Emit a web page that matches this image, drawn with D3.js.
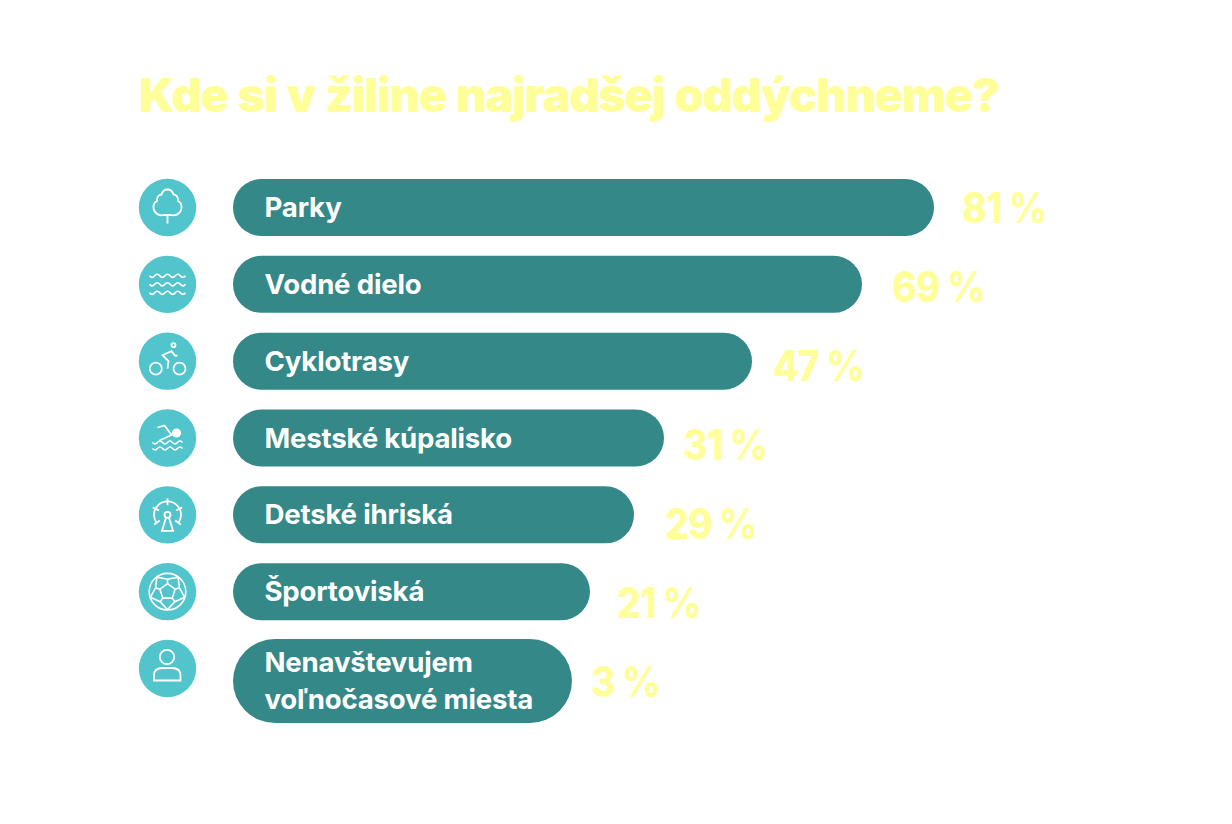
<!DOCTYPE html>
<html><head><meta charset="utf-8">
<script src="https://cdn.jsdelivr.net/npm/d3@7"></script>
<style>html,body{margin:0;padding:0;background:#fff}svg{display:block}text{font-family:Inter,sans-serif}</style>
</head><body><script>
const titleText = "Kde si v žiline najradšej oddýchneme?";
const categories = ["Parky","Vodné dielo","Cyklotrasy","Mestské kúpalisko","Detské ihriská","Športoviská","Nenavštevujem voľnočasové miesta"];
const values = [81,69,47,31,29,21,3];
const valueLabels = ["81 %","69 %","47 %","31 %","29 %","21 %","3 %"];
const labelLines = [["Parky"],["Vodné dielo"],["Cyklotrasy"],["Mestské kúpalisko"],["Detské ihriská"],["Športoviská"],["Nenavštevujem","voľnočasové miesta"]];

const W=1232,H=824, X0=233;
const svg=d3.select("body").append("svg").attr("width",W).attr("height",H);
const TEAL="#358888",CYAN="#52c4cc",YEL="#ffff99";

// The reference's bars are not proportional: a piecewise scale reproduces its lengths
const sorted=[...values].sort((a,b)=>a-b);
const xEnd=d3.scaleLinear().domain(sorted).range([572,590,634,664,752,862,934]);
const xLabel=d3.scaleLinear().domain(sorted).range([591,617,665,683,773,892,962]);
const yIcon=d3.scalePoint().domain(categories).range([207.5,668.5]);
const yLabel=d3.scalePoint().domain(categories).range([208,682]);
const barH=i=>labelLines[i].length>1?84:57;
const barCy=(c,i)=>labelLines[i].length>1?681:yIcon(c);

svg.append("text").attr("x",139).attr("y",112).attr("fill",YEL)
  .attr("font-size",47).attr("font-weight",900).attr("letter-spacing",-1.3).attr("word-spacing",2).text(titleText);

const wave=(x0,x1,y,n,a)=>{const s=(x1-x0)/n;let d=`M ${x0} ${y}`;
  for(let i=0;i<n;i++){const sgn=i%2?-1:1;d+=` Q ${x0+s*i+s/2} ${y+sgn*a*2} ${x0+s*(i+1)} ${y}`;}return d;};

const ICONS=[
 g=>{g.append("path").attr("d","M0,16V7M-3.5,7.5C-8,9-13.5,6-14,0.5C-14.3,-3-12.5,-5.5-10.5,-6.5C-11,-11-8,-13-6,-13C-5,-16.5-2.5,-18,0,-18C2.5,-18,5,-16.5,6,-13C8,-13,11,-11,10.5,-6.5C12.5,-5.5,14.3,-3,14,0.5C13.5,6,8,9,3.5,7.5Z");},
 g=>{[-8.5,0,8.5].forEach(y=>g.append("path").attr("stroke-width",1.7).attr("d",wave(-18,18,y,7,1.6)));},
 g=>{g.append("circle").attr("cx",-11.7).attr("cy",7.5).attr("r",6);
     g.append("circle").attr("cx",12).attr("cy",7.5).attr("r",6);
     g.append("circle").attr("cx",6).attr("cy",-16).attr("r",2);
     g.append("path").attr("d","M10,-5.5H7.5L4,-10L-5,-6L1,0L0,7.5");},
 g=>{g.append("circle").attr("cx",9).attr("cy",-5).attr("r",3.7).attr("fill","#fff");
     g.append("path").attr("d","M-10,-10.5L-3,-12.5L4,-3L-8,2.5");
     [4.5,10.5].forEach(y=>g.append("path").attr("stroke-width",1.5).attr("d",wave(-15,15,y,6,1.4)));},
 g=>{const R=13.5; g.append("circle").attr("r",3);
     g.append("path").attr("d",d3.arc().innerRadius(R).outerRadius(R).startAngle(-2.2).endAngle(2.2)());
     [-2.2,-1.1,0,1.1,2.2].forEach(a=>g.append("line").attr("x1",Math.sin(a)*(R+3)).attr("y1",-Math.cos(a)*(R+3)).attr("x2",Math.sin(a)*(R-4)).attr("y2",-Math.cos(a)*(R-4)));
     g.append("path").attr("d","M-1.5,3L-5.5,16H5.5L1.5,3M-6.5,16H6.5");},
 g=>{g.attr("stroke-width",1.6); g.append("circle").attr("r",18.3);
     const p=(r,o)=>d3.range(5).map(i=>{const a=o+i*2*Math.PI/5;return [Math.sin(a)*r,-Math.cos(a)*r];});
     const inner=p(8,0);
     g.append("path").attr("d",d3.line().curve(d3.curveLinearClosed)(inner));
     const outer=p(12.5,0), rim=p(18,Math.PI/5);
     inner.forEach((q,i)=>{g.append("line").attr("x1",q[0]).attr("y1",q[1]).attr("x2",outer[i][0]).attr("y2",outer[i][1]);
       const r1=rim[i],r0=rim[(i+4)%5];
       g.append("path").attr("d",`M${r0}L${outer[i]}L${r1}`);
     });},
 g=>{g.append("circle").attr("cx",-0.5).attr("cy",-11.5).attr("r",7.2);
     g.append("path").attr("d","M-13.5,12V7C-13.5,2-10,-0.5-5,-0.5H4.5C9.5,-0.5,13,2,13,7V12Z");}
];

const rows=svg.selectAll("g.row").data(categories).join("g").attr("class","row");
rows.append("circle").attr("cx",167.5).attr("cy",d=>yIcon(d)).attr("r",28.7).attr("fill",CYAN);
rows.append("g").attr("transform",d=>`translate(167.5,${yIcon(d)})`)
  .attr("fill","none").attr("stroke","#fff").attr("stroke-width",1.8)
  .each(function(d,i){ICONS[i](d3.select(this));});
rows.append("rect").attr("x",X0)
  .attr("y",(d,i)=>barCy(d,i)-barH(i)/2)
  .attr("width",(d,i)=>xEnd(values[i])-X0).attr("height",(d,i)=>barH(i))
  .attr("rx",(d,i)=>barH(i)/2).attr("fill",TEAL);
rows.each(function(d,i){
  const g=d3.select(this),L=labelLines[i],cy=barCy(d,i);
  L.forEach((t,j)=>g.append("text").attr("x",264.5)
    .attr("y",cy+9.5+(j-(L.length-1)/2)*37).attr("fill","#fff")
    .attr("font-size",27.6).attr("font-weight",700).attr("letter-spacing",-0.2).text(t));
  g.append("text").attr("transform",`translate(${xLabel(values[i])},${yLabel(d)+15}) scale(0.89,1)`).attr("fill",YEL)
    .attr("font-size",42).attr("font-weight",800).attr("letter-spacing",-1).text(valueLabels[i]);
});
</script></body></html>
